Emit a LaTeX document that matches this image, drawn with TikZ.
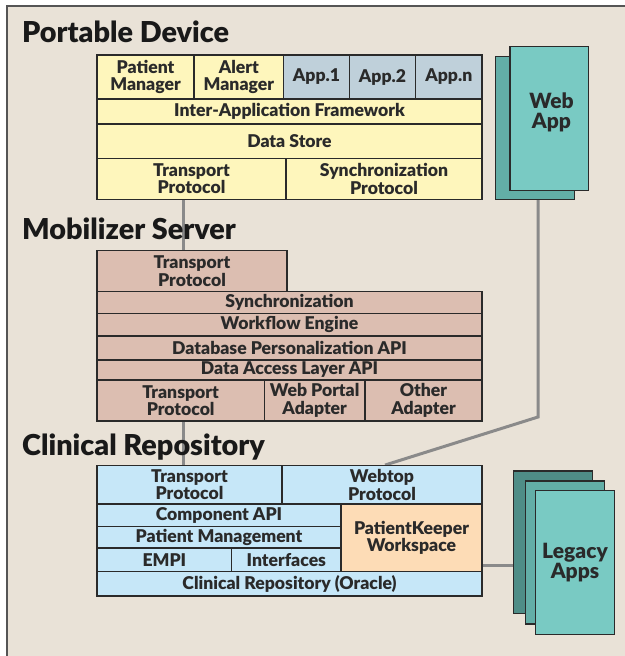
\documentclass[tikz,border=0pt]{standalone}
\usepackage{fontspec}
\setmainfont{Lato}[BoldFont={Lato Black}]
\usetikzlibrary{backgrounds,calc}
\definecolor{beige}{HTML}{E9E2D7}
\definecolor{framec}{HTML}{555555}
\definecolor{linec}{HTML}{2A2A2A}
\definecolor{connc}{HTML}{8A8A8A}
\definecolor{yel}{HTML}{FEF6BC}
\definecolor{appc}{HTML}{BFD0DA}
\definecolor{pinkc}{HTML}{DCBEB1}
\definecolor{bluec}{HTML}{C6E7F8}
\definecolor{orangec}{HTML}{FDDCB6}
\definecolor{tealf}{HTML}{79CAC3}
\definecolor{tealm}{HTML}{63AEA7}
\definecolor{tealb}{HTML}{4F8D87}
\newcommand{\mkcell}[7]{%
  \node[box,fill=#7,minimum width={(#4-#2)*1pt},minimum height={(#5-#3)*1pt}]
    (#1) at ({(#2+#4)/2},{(#3+#5)/2}) {#6};}
\tikzset{
  box/.style={draw=linec,line width=1.3pt,inner sep=0pt,align=center,
    font=\bfseries\fontsize{17.6}{17.5}\selectfont,text=linec},
  plain/.style={draw=linec,line width=1.3pt,inner sep=0pt},
  bigtext/.style={font=\bfseries\fontsize{21}{20}\selectfont},
  heading/.style={anchor=base west,inner sep=0pt,font=\bfseries\fontsize{28.8}{32}\selectfont,text=black!90},
  conn/.style={draw=connc,line width=3pt},
}
\begin{document}
\begin{tikzpicture}[x=1pt,y=-1pt]
\useasboundingbox (0,0) rectangle (624,656);
% headings
\node[heading] (h1) at (22,42) {Portable Device};
\node[heading] (h2) at (22,239) {Mobilizer Server};
\node[heading] (h3) at (22,455.3) {Clinical Repository};
% portable device
\mkcell{pm}{97}{55}{194}{99}{Patient\\Manager}{yel}
\mkcell{am}{194}{55}{283.7}{99}{Alert\\Manager}{yel}
\mkcell{aa}{283.7}{55}{349.3}{99}{App.1}{appc}
\mkcell{ab}{349.3}{55}{415.7}{99}{App.2}{appc}
\mkcell{an}{415.7}{55}{482}{99}{App.n}{appc}
\mkcell{iaf}{97}{99}{482}{124}{Inter-Application Framework}{yel}
\mkcell{ds}{97}{124}{482}{158.5}{Data Store}{yel}
\mkcell{ptp}{97}{158.5}{286}{199.3}{Transport\\Protocol}{yel}
\mkcell{psp}{286}{158.5}{482}{199.3}{Synchronization\\Protocol}{yel}
% web app
\node[plain,fill=tealm,minimum width=78.6pt,minimum height=142.6pt] (wab) at (535,128) {};
\node[plain,fill=tealf,minimum width=78.7pt,minimum height=144pt] (waf) at (549.35,118.7) {};
\node[box,draw=none,bigtext] (wat) at (551.5,112) {Web\\App};
% mobilizer server
\mkcell{mtp}{97}{250.7}{287}{291.7}{Transport\\Protocol}{pinkc}
\mkcell{msy}{97}{291.7}{482}{313.3}{Synchronization}{pinkc}
\mkcell{mwf}{97}{313.3}{482}{336}{Workflow Engine}{pinkc}
\mkcell{mdb}{97}{336}{482}{360}{Database Personalization API}{pinkc}
\mkcell{mda}{97}{360}{482}{380}{Data Access Layer API}{pinkc}
\mkcell{mtb}{97}{380}{264.3}{421}{Transport\\Protocol}{pinkc}
\mkcell{mwp}{264.3}{380}{365}{421}{Web Portal\\Adapter}{pinkc}
\mkcell{moa}{365}{380}{482}{421}{Other\\Adapter}{pinkc}
% clinical repository
\mkcell{ctp}{97}{465.7}{282}{504}{Transport\\Protocol}{bluec}
\mkcell{cwt}{282}{465.7}{482}{504}{Webtop\\Protocol}{bluec}
\mkcell{cca}{97}{504}{341}{526.7}{Component API}{bluec}
\mkcell{cpm}{97}{526.7}{341}{548}{Patient Management}{bluec}
\mkcell{cem}{97}{548}{231.7}{571.7}{EMPI}{bluec}
\mkcell{cif}{231.7}{548}{341}{571.7}{Interfaces}{bluec}
\mkcell{cpk}{341}{504}{482}{571.7}{PatientKeeper\\Workspace}{orangec}
\mkcell{cro}{97}{571.7}{482}{596}{Clinical Repository (Oracle)}{bluec}
% legacy apps
\node[plain,fill=tealb,minimum width=79pt,minimum height=142.3pt] (lab) at (553.2,542.15) {};
\node[plain,fill=tealm,minimum width=78.6pt,minimum height=143pt] (lam) at (565,552.5) {};
\node[box,fill=tealf,minimum width=78.6pt,minimum height=143.6pt,bigtext] (laf) at (575,562.5) {Legacy\\Apps};
% background and connectors
\begin{pgfonlayer}{background}
\fill[white] (0,0) rectangle (624,656);
\filldraw[fill=beige,draw=framec,line width=2pt] (7.3,5.7) rectangle (640,670);
\coordinate (bend) at (538,417);
\draw[conn] ([xshift=-8.2pt]ptp.south) -- ([xshift=-8.2pt]ptp.south |- mtp.north);
\draw[conn] ([xshift=2.7pt]mtb.south) -- ([xshift=2.7pt]mtb.south |- ctp.north);
\draw[conn] ([xshift=3pt]wab.south) -- (bend) -- ([xshift=3pt]cwt.north);
\draw[conn] (cpk.east |- 0,565.7) -- (lab.west |- 0,565.7);
\end{pgfonlayer}
\end{tikzpicture}
\end{document}
